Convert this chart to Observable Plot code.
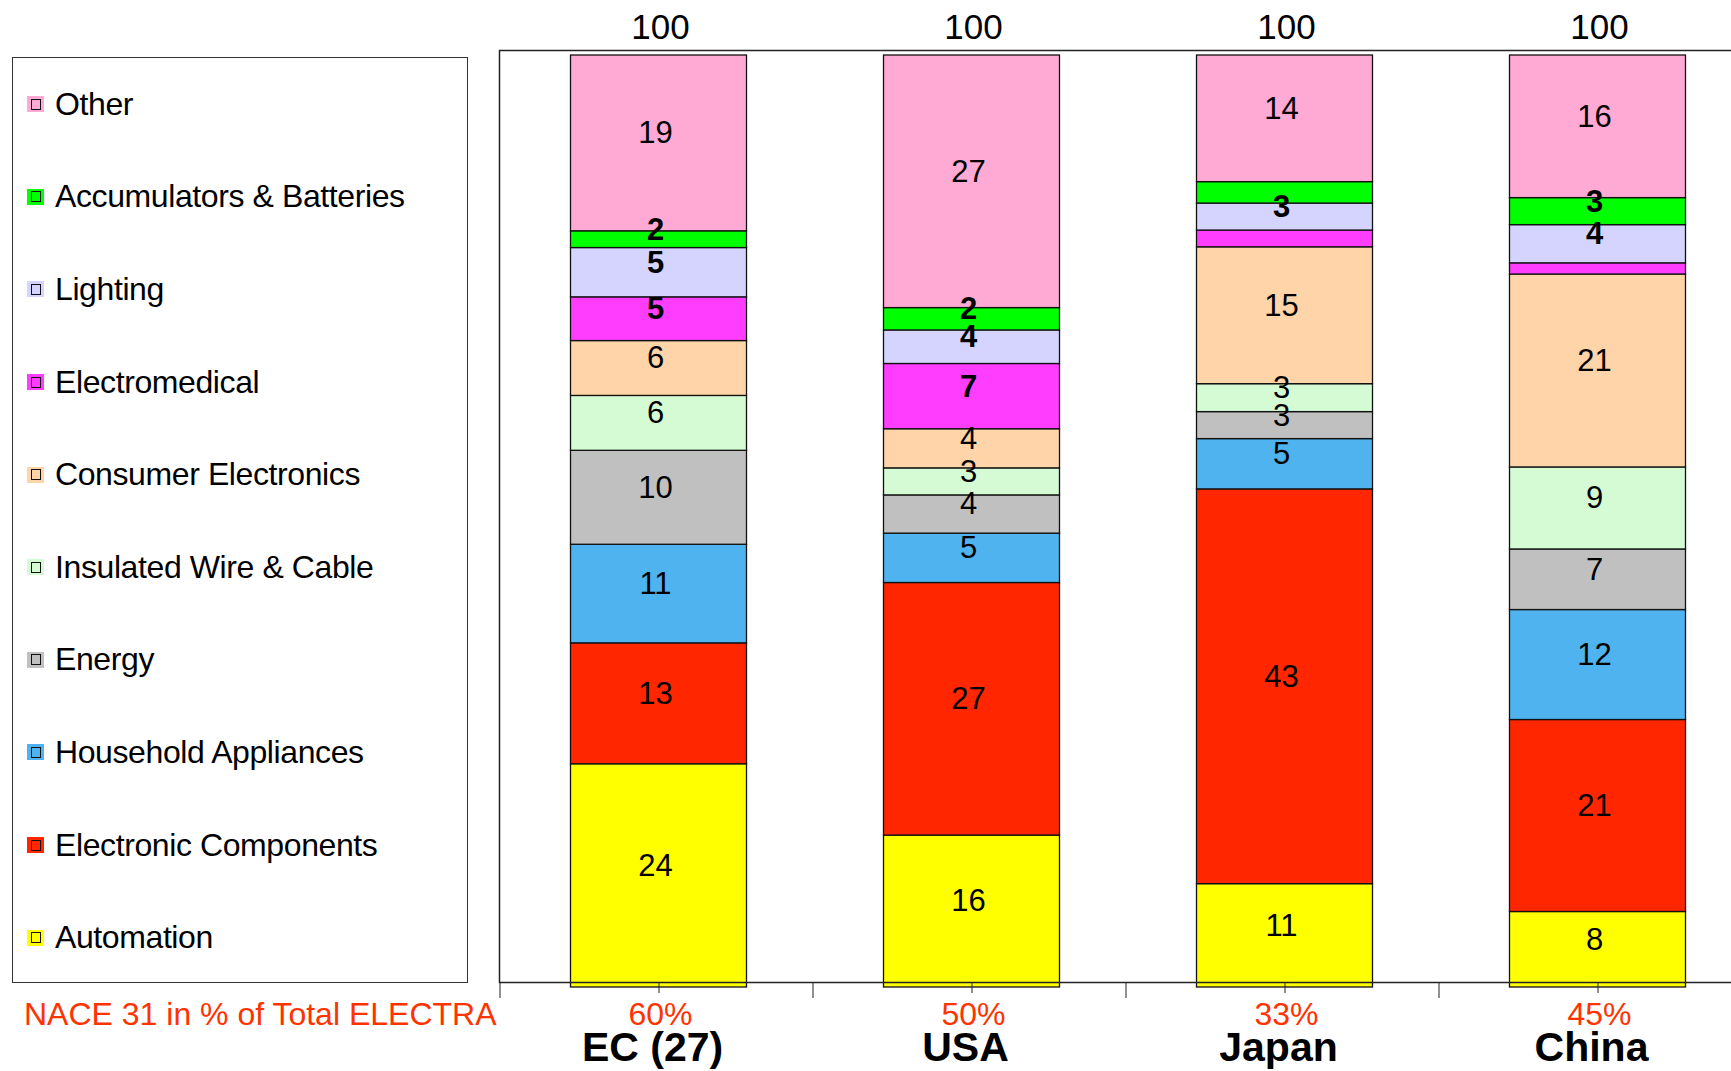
<!DOCTYPE html>
<html>
<head>
<meta charset="utf-8">
<script src="https://cdn.jsdelivr.net/npm/d3@7"></script>
<script src="https://cdn.jsdelivr.net/npm/@observablehq/plot@0.6"></script>
<style>
  html, body { margin: 0; padding: 0; background: #fff; overflow: hidden; }
  #wrap { position: relative; width: 1731px; height: 1071px; font-family: "Liberation Sans", Arial, sans-serif; }
  #chart { position: absolute; left: 0; top: 0; }
  #legend { position: absolute; left: 12px; top: 57px; width: 454px; height: 924px; border: 1.5px solid #333; box-sizing: content-box; }
  .row { height: 92.6px; display: flex; align-items: center; font-size: 32px; letter-spacing: -0.4px; color: #000; white-space: nowrap; }
  .sw { width: 17px; height: 16px; margin-left: 14px; margin-right: 11px; display: flex; align-items: center; justify-content: center; flex: none; }
  .sw i { display: block; width: 8px; height: 9px; border: 1.5px solid #111; }
  #caption { position: absolute; left: 24px; top: 998px; font-size: 32px; line-height: 32px; color: #ff3300; white-space: nowrap; }
</style>
</head>
<body>
<div id="wrap">
  <div id="chart"></div>
  <div id="legend"></div>
  <div id="caption"></div>
</div>
<script>
// ---- data ----
const countries = ["EC (27)", "USA", "Japan", "China"];
const totals = ["100", "100", "100", "100"];
const shares = ["60%", "50%", "33%", "45%"];
const captionText = "NACE 31 in % of Total ELECTRA";

// bottom -> top
const categories = ["Automation", "Electronic Components", "Household Appliances", "Energy",
  "Insulated Wire & Cable", "Consumer Electronics", "Electromedical", "Lighting",
  "Accumulators & Batteries", "Other"];
const colors = ["#ffff00", "#ff2600", "#4fb3ef", "#c0c0c0", "#d4fbd4", "#ffd4a8",
  "#ff3dff", "#d4d4ff", "#00ff00", "#ffaad4"];
const boldCategories = ["Electromedical", "Lighting", "Accumulators & Batteries"];

const ecValues    = [24.0, 13.0, 10.6, 10.1, 5.9, 5.9, 4.7, 5.3, 1.8, 18.9];
const ecLabels    = ["24", "13", "11", "10", "6", "6", "5", "5", "2", "19"];
const usaValues   = [16.3, 27.1, 5.3, 4.1, 2.9, 4.2, 7.0, 3.6, 2.4, 27.1];
const usaLabels   = ["16", "27", "5", "4", "3", "4", "7", "4", "2", "27"];
const japanValues = [11.1, 42.4, 5.4, 2.9, 3.0, 14.7, 1.8, 2.9, 2.3, 13.6];
const japanLabels = ["11", "43", "5", "3", "3", "15", null, "3", null, "14"];
const chinaValues = [8.1, 20.6, 11.8, 6.5, 8.8, 20.7, 1.2, 4.1, 2.9, 15.3];
const chinaLabels = ["8", "21", "12", "7", "9", "21", null, "4", "3", "16"];

const seriesValues = [ecValues, usaValues, japanValues, chinaValues];
const seriesLabels = [ecLabels, usaLabels, japanLabels, chinaLabels];

// ---- table ----
const rows = [];
countries.forEach((c, ci) => {
  categories.forEach((cat, k) => {
    rows.push({country: c, category: cat, value: seriesValues[ci][k], label: seriesLabels[ci][k]});
  });
});

// ---- layout ----
const W = 1731, H = 1071;
const mLeft = 499, mRight = -20, mTop = 50, mBottom = 89;
const step = (W - mLeft - mRight) / countries.length;
const font = "Liberation Sans, Arial, sans-serif";
const barShift = 2.5;

const stackOpts = {x: "country", y: "value", z: "category", offset: "normalize", order: null};

const chart = Plot.plot({
  width: W,
  height: H,
  marginLeft: mLeft,
  marginRight: mRight,
  marginTop: mTop,
  marginBottom: mBottom,
  style: {fontFamily: font, background: "white", color: "#000", overflow: "visible"},
  x: {type: "band", domain: countries, paddingInner: 0.438, paddingOuter: 0.219, label: null},
  y: {domain: [0, 1], insetTop: 5, insetBottom: -5, axis: null},
  color: {domain: categories, range: colors, legend: false},
  marks: [
    Plot.barY(rows, Plot.stackY({...stackOpts, fill: "category", stroke: "#111", strokeWidth: 1.3, dx: barShift})),
    Plot.text(rows, Plot.stackY({...stackOpts,
      text: d => boldCategories.includes(d.category) ? null : d.label,
      fontSize: 31, fill: "#000", dx: -1, dy: -10})),
    Plot.text(rows, Plot.stackY({...stackOpts,
      text: d => boldCategories.includes(d.category) ? d.label : null,
      fontSize: 31, fontWeight: "bold", fill: "#000", dx: -1, dy: -10})),
    Plot.frame({stroke: "#222", strokeWidth: 1.5}),
    Plot.text(countries, {x: d => d, text: (d, i) => totals[i], frameAnchor: "top",
      lineAnchor: "bottom", dx: 4, dy: -12, fontSize: 35, fill: "#000"}),
    // category boundary ticks
    Plot.axisX({anchor: "bottom", tickSize: 16, dx: -step / 2, tickFormat: () => "", stroke: "#222"}),
    // center ticks
    Plot.axisX({anchor: "bottom", tickSize: 11, dx: barShift, tickFormat: () => "", stroke: "#222"}),
    // percentage row
    Plot.axisX({anchor: "bottom", tickSize: 0, tickPadding: 20, fontSize: 32, color: "#ff3300", dx: 4,
      tickFormat: d => shares[countries.indexOf(d)]}),
    // country names
    Plot.axisX({anchor: "bottom", tickSize: 0, tickPadding: 49, fontSize: 41, fontWeight: "bold",
      fill: "#000", dx: -4})
  ]
});
document.getElementById("chart").appendChild(chart);

// ---- legend (top -> bottom) ----
const legend = document.getElementById("legend");
for (let k = categories.length - 1; k >= 0; k--) {
  const row = document.createElement("div");
  row.className = "row";
  const sw = document.createElement("span");
  sw.className = "sw";
  sw.style.background = colors[k];
  const inner = document.createElement("i");
  inner.style.background = colors[k];
  sw.appendChild(inner);
  const t = document.createElement("span");
  t.textContent = categories[k];
  row.appendChild(sw);
  row.appendChild(t);
  legend.appendChild(row);
}
document.getElementById("caption").textContent = captionText;
</script>
</body>
</html>
